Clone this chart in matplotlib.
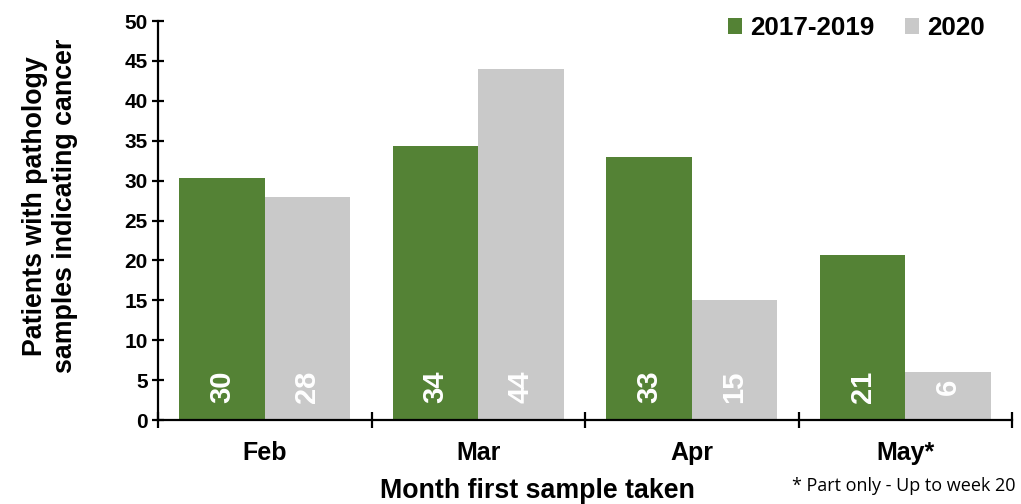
import matplotlib
matplotlib.use('Agg')
import numpy as np
from matplotlib import pyplot as plt

# data
bulan = ['Feb', 'Mar', 'Apr', 'May*']
nilai_lama = [30.3, 34.3, 33.0, 20.7]
nilai_2020 = [28, 44, 15, 6]
label_lama = ['30', '34', '33', '21']
label_2020 = ['28', '44', '15', '6']
yticks = [0, 5, 10, 15, 20, 25, 30, 35, 40, 45, 50]

hijau = '#548235'
abu = '#C9C9C9'

plt.rcParams['font.family'] = ['Liberation Sans', 'DejaVu Sans']
plt.rcParams['font.weight'] = 'bold'

fig = plt.figure(figsize=(10.21, 5.04), dpi=100)
ax = fig.add_axes([158/1021, 84/504, 854/1021, 399/504])

x = np.arange(len(bulan))
lebar = 0.4
ax.bar(x - lebar/2, nilai_lama, lebar, color=hijau, label='2017-2019')
ax.bar(x + lebar/2, nilai_2020, lebar, color=abu, label='2020')

# label angka di dalam batang
for xi, t in zip(x - lebar/2, label_lama):
    ax.text(xi, 4.2, t, rotation=90, ha='center', va='center', color='white',
            fontsize=21, fontweight='bold')
for xi, t in zip(x + lebar/2, label_2020):
    ax.text(xi, 4.2, t, rotation=90, ha='center', va='center', color='white',
            fontsize=21, fontweight='bold')

ax.set_xlim(-0.5, len(bulan) - 0.5)
ax.set_ylim(0, 50)
ax.set_yticks(yticks)
ax.set_yticklabels([str(v) for v in yticks], fontsize=15, fontweight='bold')
ax.set_xticks(x)
ax.set_xticklabels(bulan, fontsize=18, fontweight='bold')
ax.set_xticks(np.arange(-0.5, len(bulan)), minor=True)
ax.tick_params(axis='x', which='major', length=0, pad=15)
ax.tick_params(axis='x', which='minor', direction='inout', length=11, width=1.6)
ax.tick_params(axis='y', direction='inout', length=9, width=1.6, pad=3)

for s in ['top', 'right']:
    ax.spines[s].set_visible(False)
for s in ['left', 'bottom']:
    ax.spines[s].set_linewidth(1.6)

fig.text(50/1021, 1 - 206/504, 'Patients with pathology\nsamples indicating cancer',
         rotation=90, ha='center', va='center', fontsize=19.3, fontweight='bold',
         linespacing=1.15)
fig.text(537/1021, 1 - 491/504, 'Month first sample taken', ha='center', va='center',
         fontsize=19.3, fontweight='bold')
fig.text(1015/1021, 1 - 486/504, '* Part only - Up to week 20', ha='right', va='center',
         fontsize=13, fontweight='normal', family=['Open Sans', 'DejaVu Sans'])

ax.legend(loc='upper right', bbox_to_anchor=(985/854 - 158/854, 1.012), ncol=2, frameon=False,
          prop={'size': 18.7, 'weight': 'bold'}, handlelength=0.55, handleheight=0.55,
          handletextpad=0.3, columnspacing=1.2, borderaxespad=0, borderpad=0)

fig.savefig('out.png', dpi=100)
